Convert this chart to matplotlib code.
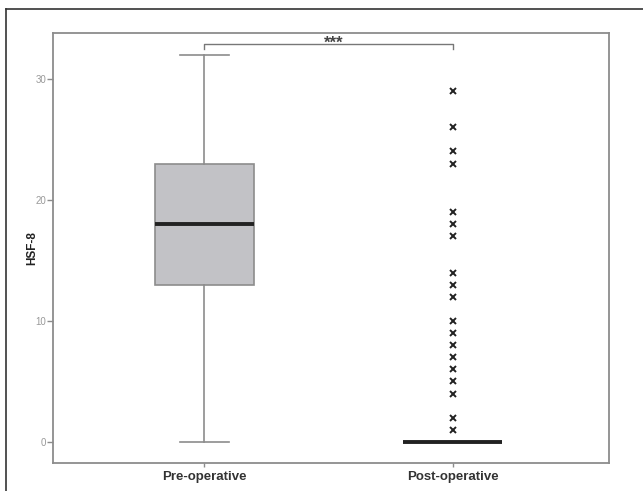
import matplotlib.pyplot as plt
from matplotlib.lines import Line2D

plt.rcParams['font.family'] = ['Liberation Sans', 'DejaVu Sans']

groups = ['Pre-operative', 'Post-operative']
# five-number summaries
pre = dict(med=18, q1=13, q3=23, whislo=0, whishi=32)
post = dict(med=0, q1=0, q3=0, whislo=0, whishi=0)
post_outliers = [29, 26, 24, 23, 19, 18, 17, 14, 13, 12, 10, 9, 8, 7, 6, 5, 4, 2, 1]
y_ticks = [0, 10, 20, 30]
sig_label = '***'

stats = []
for g, s, fl in zip(groups, [pre, post], [[], post_outliers]):
    d = dict(s)
    d['label'] = g
    d['fliers'] = fl
    stats.append(d)

fig = plt.figure(figsize=(6.43, 4.91), dpi=100)
ax = fig.add_axes([0.0824, 0.057, 0.865, 0.876])

frame_c = '#8c8c8c'
ax.bxp(stats, positions=[1, 2], widths=0.4, patch_artist=True,
       boxprops=dict(facecolor='#c2c2c6', edgecolor=frame_c, linewidth=1.2),
       medianprops=dict(color='#222222', linewidth=2.8),
       whiskerprops=dict(color=frame_c, linewidth=1.2),
       capprops=dict(color=frame_c, linewidth=1.2),
       capwidths=0.2,
       flierprops=dict(marker='x', markersize=4.5, markeredgecolor='#222222',
                       markeredgewidth=1.4, linestyle='none'))

ax.set_xlim(0.39, 2.63)
ax.set_ylim(-1.74, 33.8)
ax.set_yticks(y_ticks)
ax.set_yticklabels([str(t) for t in y_ticks], fontsize=7, color='#999999')
ax.set_xticks([1, 2])
ax.set_xticklabels(groups, fontsize=9.5, fontweight='bold', color='#333333')
ax.tick_params(axis='y', length=4, width=1, color=frame_c, pad=1)
ax.tick_params(axis='x', length=3, width=1, color=frame_c, pad=3)
ax.set_ylabel('HSF-8', fontsize=8.5, fontweight='bold', color='#222222', labelpad=-2)
for sp in ax.spines.values():
    sp.set_color(frame_c)
    sp.set_linewidth(1.3)

# significance bracket
yb = 32.85
ax.plot([1, 1, 2, 2], [yb - 0.35, yb, yb, yb - 0.35], color='#777777', linewidth=1)
ax.text(1.52, 32.6, sig_label, ha='center', va='baseline', fontsize=12,
        fontweight='bold', color='#444444')

# outer figure border (left and top)
fig.add_artist(Line2D([6 / 643, 6 / 643], [0, 1 - 9 / 491], color='#333333', linewidth=1.2))
fig.add_artist(Line2D([6 / 643, 1], [1 - 9 / 491, 1 - 9 / 491], color='#333333', linewidth=1.2))

fig.savefig('out.png', dpi=100)
